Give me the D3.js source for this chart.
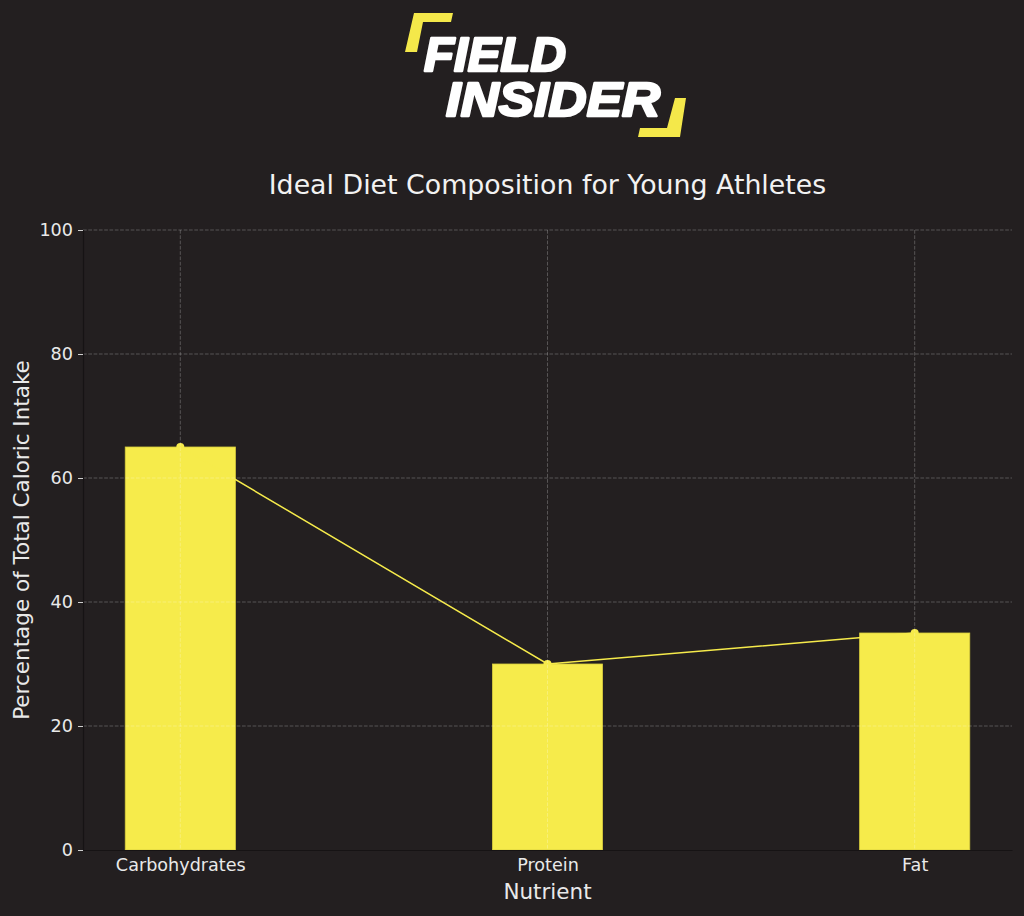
<!DOCTYPE html>
<html>
<head>
<meta charset="utf-8">
<script src="https://cdn.jsdelivr.net/npm/d3@7"></script>
<style>
  html, body { margin: 0; padding: 0; background: #231f20; }
  svg { display: block; }
</style>
</head>
<body>
<svg id="chart"></svg>
<script>
// data
var nutrients = ["Carbohydrates", "Protein", "Fat"];
var percents = [65, 30, 35];
var yTicks = [0, 20, 40, 60, 80, 100];

var width = 1024, height = 916;
var plotLeft = 83, plotRight = 1012, plotTop = 230, plotBottom = 850;
var bg = "#231f20", yellow = "#f6eb4b", txt = "#e9e9e9";
var font = "DejaVu Sans, sans-serif";

var svg = d3.select("#chart")
    .attr("width", width)
    .attr("height", height);

svg.append("rect")
    .attr("width", width).attr("height", height)
    .attr("fill", bg);

// logo
var logo = svg.append("g");
logo.append("polygon")
    .attr("points", "414,13 453,13 451,22 423,22 417,52 405,52")
    .attr("fill", "#f4e84a");
logo.append("polygon")
    .attr("points", "675,98 686,98 680,137 638,137 640,128 667,128")
    .attr("fill", "#f4e84a");
logo.append("text")
    .attr("x", 424).attr("y", 71)
    .attr("textLength", 142).attr("lengthAdjust", "spacingAndGlyphs")
    .style("font-family", "Liberation Sans, Arial, sans-serif")
    .style("font-weight", "bold").style("font-style", "italic")
    .style("font-size", "48px")
    .attr("fill", "#ffffff")
    .attr("stroke", "#ffffff").attr("stroke-width", 2.5)
    .attr("stroke-linejoin", "round")
    .text("FIELD");
logo.append("text")
    .attr("x", 446).attr("y", 116)
    .attr("textLength", 214).attr("lengthAdjust", "spacingAndGlyphs")
    .style("font-family", "Liberation Sans, Arial, sans-serif")
    .style("font-weight", "bold").style("font-style", "italic")
    .style("font-size", "48px")
    .attr("fill", "#ffffff")
    .attr("stroke", "#ffffff").attr("stroke-width", 2.5)
    .attr("stroke-linejoin", "round")
    .text("INSIDER");

// scales
var x = d3.scaleLinear()
    .domain([-0.265, nutrients.length - 1 + 0.265])
    .range([plotLeft, plotRight]);
var y = d3.scaleLinear().domain([0, 100]).range([plotBottom, plotTop]);
var barW = x(0.3) - x(0);

// bars
svg.append("g").selectAll("rect")
    .data(percents)
    .enter().append("rect")
    .attr("x", function(d, i) { return x(i) - barW / 2; })
    .attr("y", function(d) { return y(d); })
    .attr("width", barW)
    .attr("height", function(d) { return y(0) - y(d); })
    .attr("fill", yellow)
    .attr("stroke", "#d8cd3c")
    .attr("stroke-width", 0.8);

// line with markers
var line = d3.line()
    .x(function(d, i) { return x(i); })
    .y(function(d) { return y(d); });
svg.append("path")
    .datum(percents)
    .attr("d", line)
    .attr("fill", "none")
    .attr("stroke", yellow)
    .attr("stroke-width", 1.5);
svg.append("g").selectAll("circle")
    .data(percents)
    .enter().append("circle")
    .attr("cx", function(d, i) { return x(i); })
    .attr("cy", function(d) { return y(d); })
    .attr("r", 4)
    .attr("fill", yellow);

// grid (drawn over the bars)
var grid = svg.append("g")
    .attr("stroke", "#ffffff")
    .attr("stroke-opacity", 0.3)
    .attr("stroke-dasharray", "3.7,1.6")
    .attr("stroke-width", 0.8);
grid.selectAll(".gy")
    .data(yTicks.slice(1))
    .enter().append("line")
    .attr("x1", plotLeft).attr("x2", plotRight)
    .attr("y1", function(d) { return y(d); })
    .attr("y2", function(d) { return y(d); });
grid.selectAll(".gx")
    .data(nutrients)
    .enter().append("line")
    .attr("x1", function(d, i) { return x(i); })
    .attr("x2", function(d, i) { return x(i); })
    .attr("y1", plotTop).attr("y2", plotBottom);

// axes
var yAxis = svg.append("g")
    .attr("transform", "translate(" + plotLeft + ",0)")
    .call(d3.axisLeft(y).tickValues(yTicks).tickSize(5).tickPadding(5));
var xAxis = svg.append("g")
    .attr("transform", "translate(0," + plotBottom + ")")
    .call(d3.axisBottom(x).tickValues(d3.range(nutrients.length))
        .tickFormat(function(i) { return nutrients[i]; })
        .tickSize(0).tickPadding(9));
[yAxis, xAxis].forEach(function(a) {
    a.select(".domain").attr("stroke", "#161314").attr("stroke-width", 1.2);
    a.selectAll(".tick line").attr("stroke", "#cfcfcf").attr("stroke-width", 1);
    a.selectAll(".tick text")
        .attr("fill", txt)
        .style("font-family", font)
        .style("font-size", "17.6px");
});

// title and labels
svg.append("text")
    .attr("x", (plotLeft + plotRight) / 2).attr("y", 194)
    .attr("text-anchor", "middle")
    .attr("fill", "#f2f2f2")
    .style("font-family", font).style("font-size", "26.8px")
    .text("Ideal Diet Composition for Young Athletes");
svg.append("text")
    .attr("x", (plotLeft + plotRight) / 2).attr("y", 899)
    .attr("text-anchor", "middle")
    .attr("fill", txt)
    .style("font-family", font).style("font-size", "21.5px")
    .text("Nutrient");
svg.append("text")
    .attr("transform", "translate(29," + (plotTop + plotBottom) / 2 + ") rotate(-90)")
    .attr("text-anchor", "middle")
    .attr("fill", txt)
    .style("font-family", font).style("font-size", "21.5px")
    .text("Percentage of Total Caloric Intake");
</script>
</body>
</html>
